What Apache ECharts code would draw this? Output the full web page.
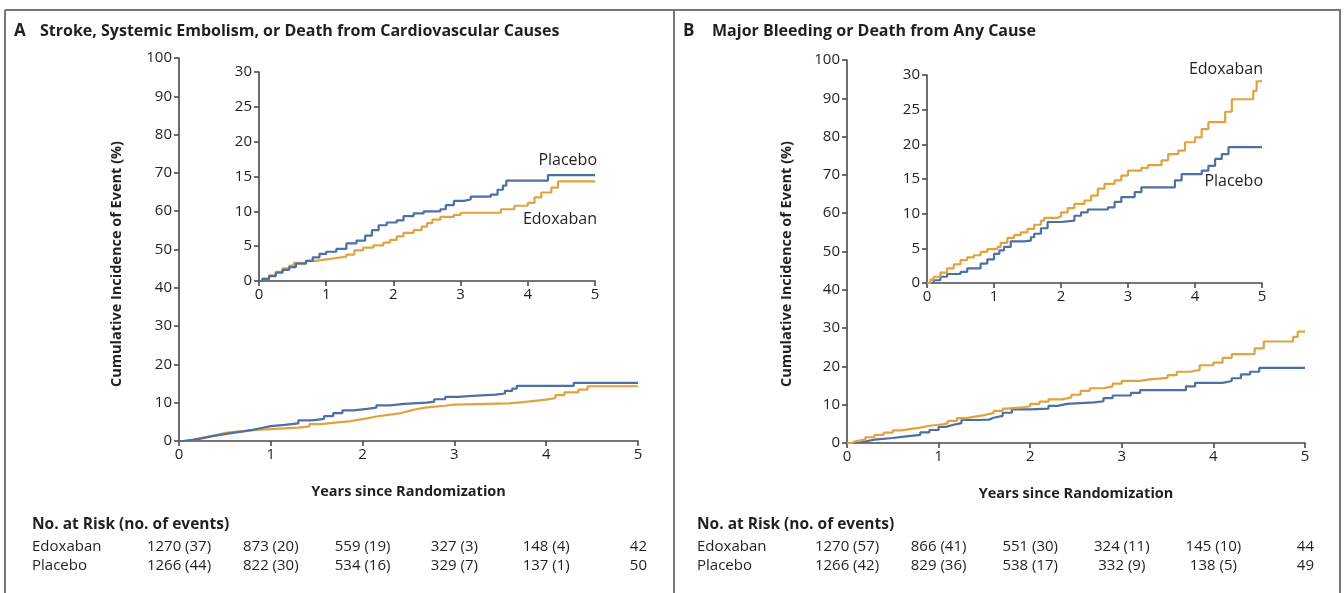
<!DOCTYPE html>
<html><head><meta charset="utf-8">
<script src="https://cdn.jsdelivr.net/npm/echarts@6/dist/echarts.min.js"></script>
<style>html,body{margin:0;padding:0;background:#fff}#c{width:1344px;height:593px}</style>
</head><body><div id="c"></div>
<script>
// ---- data ----
const years = [0, 1, 2, 3, 4, 5];
const mainTicks = [0, 10, 20, 30, 40, 50, 60, 70, 80, 90, 100];
const insetTicks = [0, 5, 10, 15, 20, 25, 30];

// Panel A: Stroke, systemic embolism, or CV death (cumulative %, step points [year, %])
const aEdoxaban = [[0,0],[0.05,0.3],[0.15,0.8],[0.25,1.3],[0.35,1.8],[0.45,2.2],[0.52,2.6],[0.7,2.9],[0.85,3.1],[1.0,3.3],[1.15,3.5],[1.3,3.8],[1.42,4.4],[1.55,4.8],[1.7,5.1],[1.85,5.5],[1.95,5.9],[2.05,6.4],[2.15,6.9],[2.3,7.3],[2.42,7.8],[2.5,8.3],[2.58,8.8],[2.7,9.2],[2.9,9.5],[3.0,9.8],[3.6,10.3],[3.8,10.8],[4.0,11.2],[4.1,12.0],[4.2,12.7],[4.35,13.4],[4.45,14.3],[5.0,14.3]];
const aPlacebo = [[0,0],[0.05,0.3],[0.15,0.7],[0.25,1.2],[0.35,1.6],[0.45,2.0],[0.55,2.5],[0.7,2.9],[0.8,3.4],[0.9,3.9],[1.0,4.2],[1.15,4.6],[1.3,5.4],[1.45,5.8],[1.58,6.5],[1.68,7.3],[1.78,8.0],[1.9,8.4],[2.05,8.7],[2.15,9.3],[2.3,9.7],[2.45,10.0],[2.7,10.3],[2.78,10.9],[2.9,11.5],[3.05,11.7],[3.15,12.1],[3.45,12.4],[3.55,13.1],[3.63,13.7],[3.68,14.4],[4.3,15.2],[5.0,15.2]];

// Panel B: Major bleeding or death from any cause
const bEdoxaban = [[0,0],[0.05,0.5],[0.1,0.9],[0.2,1.5],[0.3,2.1],[0.4,2.7],[0.5,3.3],[0.6,3.7],[0.7,4.0],[0.8,4.5],[0.9,4.9],[1.05,5.2],[1.1,5.8],[1.2,6.5],[1.3,6.9],[1.4,7.3],[1.5,7.8],[1.6,8.4],[1.7,9.0],[1.75,9.4],[1.95,9.6],[2.0,10.2],[2.1,10.8],[2.2,11.4],[2.35,11.9],[2.45,12.6],[2.55,13.6],[2.65,14.3],[2.8,14.8],[2.9,15.5],[3.0,16.2],[3.2,16.6],[3.3,17.0],[3.5,17.7],[3.6,18.6],[3.75,19.1],[3.85,20.3],[4.0,21.0],[4.1,22.2],[4.2,23.2],[4.45,24.7],[4.55,26.5],[4.87,27.7],[4.92,29.1],[5.0,29.1]];
const bPlacebo = [[0,0],[0.1,0.4],[0.2,0.9],[0.3,1.3],[0.5,1.6],[0.6,2.1],[0.8,2.8],[0.9,3.4],[1.0,4.2],[1.08,4.7],[1.15,5.2],[1.25,6.0],[1.45,6.1],[1.55,6.6],[1.6,7.1],[1.7,7.9],[1.8,8.8],[2.0,9.0],[2.2,9.7],[2.3,10.2],[2.4,10.6],[2.7,10.9],[2.8,11.7],[2.9,12.4],[3.1,13.1],[3.2,13.8],[3.7,14.8],[3.8,15.7],[4.1,16.2],[4.2,16.9],[4.3,17.9],[4.4,18.6],[4.5,19.6],[5.0,19.6]];

// Numbers at risk (no. of events)
const aRiskEdoxaban = ['1270 (37)','873 (20)','559 (19)','327 (3)','148 (4)','42'];
const aRiskPlacebo  = ['1266 (44)','822 (30)','534 (16)','329 (7)','137 (1)','50'];
const bRiskEdoxaban = ['1270 (57)','866 (41)','551 (30)','324 (11)','145 (10)','44'];
const bRiskPlacebo  = ['1266 (42)','829 (36)','538 (17)','332 (9)','138 (5)','49'];

const titleA = 'Stroke, Systemic Embolism, or Death from Cardiovascular Causes';
const titleB = 'Major Bleeding or Death from Any Cause';

// ---- style ----
const FONT = 'Open Sans';
const TXT = '#231f20';
const AX = '#4a4a4a';
const BLUE = '#4d70a4';
const ORANGE = '#e2a240';

const chart = echarts.init(document.getElementById('c'), null, {renderer: 'canvas'});

const grids = [
  {left: 179, top: 58, width: 459, height: 383},   // main A
  {left: 259, top: 72, width: 336, height: 209},   // inset A
  {left: 847, top: 60, width: 458, height: 383},   // main B
  {left: 927, top: 75, width: 335, height: 208}    // inset B
];

function xAx(i, withName) {
  return {
    type: 'value', gridIndex: i, min: 0, max: 5, interval: 1,
    axisLine: {show: true, lineStyle: {color: AX, width: 1.6}},
    axisTick: {show: true, length: 5, lineStyle: {color: AX, width: 1.6}},
    axisLabel: {color: TXT, fontFamily: FONT, fontSize: 15, margin: 6},
    splitLine: {show: false},
    name: withName ? 'Years since Randomization' : '',
    nameLocation: 'middle', nameGap: 43,
    nameTextStyle: {color: TXT, fontFamily: FONT, fontSize: 14.5, fontWeight: 'bold'}
  };
}
function yAx(i, max, interval) {
  return {
    type: 'value', gridIndex: i, min: 0, max: max, interval: interval,
    axisLine: {show: true, lineStyle: {color: AX, width: 1.6}},
    axisTick: {show: true, length: 5, lineStyle: {color: AX, width: 1.6}},
    axisLabel: {color: TXT, fontFamily: FONT, fontSize: 15, margin: 7},
    splitLine: {show: false}
  };
}
function ser(xi, data, color, z) {
  return {
    type: 'line', xAxisIndex: xi, yAxisIndex: xi, data: data, step: 'end',
    showSymbol: false, symbol: 'none', silent: true, z: z,
    lineStyle: {color: color, width: 2.2}
  };
}

const option = {
  backgroundColor: '#fff',
  animation: false,
  grid: grids,
  xAxis: [xAx(0, true), xAx(1, false), xAx(2, true), xAx(3, false)],
  yAxis: [yAx(0, 100, 10), yAx(1, 30, 5), yAx(2, 100, 10), yAx(3, 30, 5)],
  series: [
    ser(0, aEdoxaban, ORANGE, 2), ser(0, aPlacebo, BLUE, 3),
    ser(1, aEdoxaban, ORANGE, 2), ser(1, aPlacebo, BLUE, 3),
    ser(2, bPlacebo, BLUE, 2), ser(2, bEdoxaban, ORANGE, 3),
    ser(3, bPlacebo, BLUE, 2), ser(3, bEdoxaban, ORANGE, 3)
  ]
};
chart.setOption(option);

// ---- text & frame (positions derived from axes) ----
function px(axisIdx, v) { return chart.convertToPixel({xAxisIndex: axisIdx}, v); }
function py(axisIdx, v) { return chart.convertToPixel({yAxisIndex: axisIdx}, v); }

const g = [];
const lineSty = {stroke: '#767676', lineWidth: 2};
g.push({type: 'line', shape: {x1: 5, y1: 10, x2: 1341, y2: 10}, style: lineSty, silent: true});
g.push({type: 'line', shape: {x1: 5, y1: 10, x2: 5, y2: 593}, style: lineSty, silent: true});
g.push({type: 'line', shape: {x1: 674, y1: 10, x2: 674, y2: 593}, style: lineSty, silent: true});
g.push({type: 'line', shape: {x1: 1340, y1: 10, x2: 1340, y2: 593}, style: lineSty, silent: true});

function txt(x, y, s, opt) {
  g.push({type: 'text', x: x, y: y, silent: true, z: 10,
    style: Object.assign({text: s, fill: TXT, font: '15px "' + FONT + '"', textAlign: 'left', textVerticalAlign: 'middle'}, opt || {})});
}
// titles
txt(14, 31, 'A', {font: 'bold 17px "' + FONT + '"'});
txt(40, 31, titleA, {font: 'bold 16px "' + FONT + '"'});
txt(683, 31, 'B', {font: 'bold 17px "' + FONT + '"'});
txt(712, 31, titleB, {font: 'bold 16px "' + FONT + '"'});

// y axis titles
const yName = 'Cumulative Incidence of Event (%)';
g.push({type: 'text', x: 117, y: 264, rotation: Math.PI / 2, silent: true,
  style: {text: yName, fill: TXT, font: 'bold 14.5px "' + FONT + '"', textAlign: 'center', textVerticalAlign: 'middle'}});
g.push({type: 'text', x: 787, y: 264, rotation: Math.PI / 2, silent: true,
  style: {text: yName, fill: TXT, font: 'bold 14.5px "' + FONT + '"', textAlign: 'center', textVerticalAlign: 'middle'}});

// curve labels in insets
txt(px(1, 5) + 2, py(1, 17.3), 'Placebo', {textAlign: 'right', font: '16px "' + FONT + '"'});
txt(px(1, 5) + 2, py(1, 8.8), 'Edoxaban', {textAlign: 'right', font: '16px "' + FONT + '"'});
txt(px(3, 5) + 1, py(3, 30.8), 'Edoxaban', {textAlign: 'right', font: '16px "' + FONT + '"'});
txt(px(3, 5) + 1, py(3, 14.6), 'Placebo', {textAlign: 'right', font: '16px "' + FONT + '"'});

// risk tables
function risk(axisIdx, labelX, edox, plac) {
  txt(labelX, 525, 'No. at Risk (no. of events)', {font: 'bold 15.5px "' + FONT + '"'});
  txt(labelX, 547, 'Edoxaban');
  txt(labelX, 566, 'Placebo');
  years.forEach(function (yr, i) {
    const x = px(axisIdx, yr);
    const last = i === years.length - 1;
    txt(last ? x + 9 : x, 547, edox[i], {textAlign: last ? 'right' : 'center'});
    txt(last ? x + 9 : x, 566, plac[i], {textAlign: last ? 'right' : 'center'});
  });
}
risk(0, 32, aRiskEdoxaban, aRiskPlacebo);
risk(2, 697, bRiskEdoxaban, bRiskPlacebo);

chart.setOption({graphic: {elements: g}});
</script></body></html>
